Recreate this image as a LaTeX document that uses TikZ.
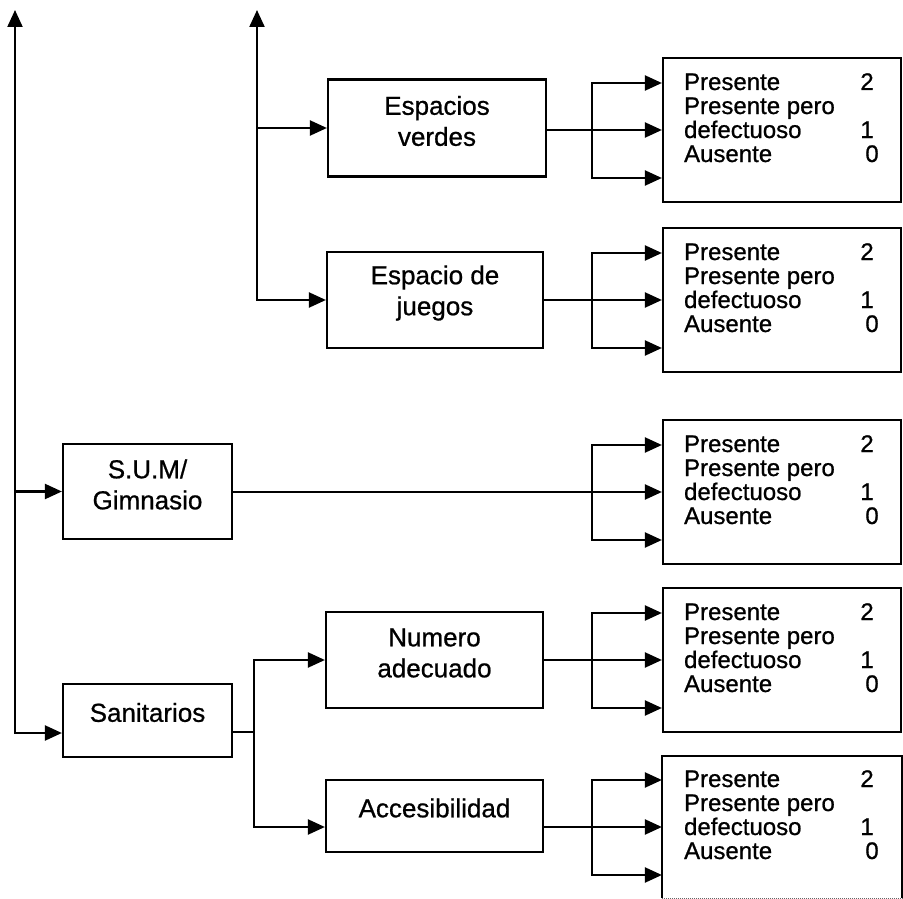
\documentclass[tikz,border=0pt]{standalone}
\usepackage{fontspec}
\setmainfont{Liberation Sans}
\newfontfamily\scanfont[FakeBold=0.8]{Liberation Sans}
\usetikzlibrary{arrows.meta,calc}
\begin{document}
\begin{tikzpicture}[x=1pt,y=-1pt,
  conn/.style={line width=2.2pt},
  arr/.style={conn,-{Triangle[length=17pt,width=15pt]}},
  arr2/.style={conn,{Triangle[length=17pt,width=15pt]}-{Triangle[length=17pt,width=15pt]}},
  box/.style={draw,line width=2.2pt,rectangle,inner sep=0pt},
  rbox/.style={box,minimum width=238pt,minimum height=144pt},
  lbl/.style={font=\scanfont\fontsize{26}{31}\selectfont,align=center,inner sep=0pt},
  opt/.style={font=\scanfont\fontsize{24}{24}\selectfont,inner sep=0pt,anchor=base west},
  num/.style={font=\scanfont\fontsize{24}{24}\selectfont,inner sep=0pt,anchor=base east}]
\useasboundingbox (0,0) rectangle (903,899);

% middle / left boxes
\node[box,minimum width=218pt,minimum height=97pt] (ev)  at (437,128) {};
\node[box,minimum width=216pt,minimum height=96pt] (ej)  at (435,300) {};
\node[box,minimum width=169pt,minimum height=95pt] (sum) at (147.5,491.5) {};
\node[box,minimum width=217pt,minimum height=96pt] (nu)  at (434.5,660) {};
\node[box,minimum width=169pt,minimum height=73pt] (san) at (147.5,720.5) {};
\node[box,minimum width=217pt,minimum height=72pt] (acc) at (434.5,816) {};

\node[lbl] (ev-t)  at ([yshift=7pt]ev.center)  {Espacios\\verdes};
\node[lbl] (ej-t)  at ([yshift=7pt]ej.center)  {Espacio de\\juegos};
\node[lbl] (sum-t) at ([yshift=7pt]sum.center) {S.U.M/\\Gimnasio};
\node[lbl] (nu-t)  at ([yshift=7pt]nu.center)  {Numero\\adecuado};
\node[lbl] (san-t) at ([yshift=8pt]san.center) {Sanitarios};
\node[lbl] (acc-t) at ([yshift=8pt]acc.center) {Accesibilidad};

% right boxes
\foreach \n/\y in {r1/130,r2/300,r3/492,r4/660}{
  \node[rbox] (\n) at (782,\y) {};
}
\node[rbox,draw=none,minimum height=140pt] (r5) at (782,827) {};
\draw[line width=2.2pt] (r5.south west) -- (r5.north west) -- (r5.north east) -- (r5.south east);
\draw[line width=1pt,densely dotted,black!60] (r5.south west) -- (r5.south east);

\foreach \n in {r1,r2,r3,r4,r5}{
  \node[opt] (\n-a) at ($(\n.west)+(22,-40)$) {Presente};
  \node[opt] (\n-b) at ($(\n.west)+(22,-16)$) {Presente pero};
  \node[opt] (\n-c) at ($(\n.west)+(22,8)$) {defectuoso};
  \node[opt] (\n-d) at ($(\n.west)+(22,32)$) {Ausente};
  \node[num] (\n-2) at ($(\n.west)+(212,-40)$) {2};
  \node[num] (\n-1) at ($(\n.west)+(212,8)$) {1};
  \node[num] (\n-0) at ($(\n.west)+(217,32)$) {0};
  \coordinate (\n-t) at ($(\n.west)+(0,-47)$);
  \coordinate (\n-u) at ($(\n.west)+(0,48)$);
  \coordinate (\n-k) at (592,0);
  \draw[arr2] (\n-t) -- (\n-k |- \n-t) -- (\n-k |- \n-u) -- (\n-u);
}

% outputs of middle boxes
\draw[arr] (ev.east |- r1.west) -- (r1.west);
\draw[arr] (ej.east |- r2.west) -- (r2.west);
\draw[arr] (sum.east |- r3.west) -- (r3.west);
\draw[arr] (nu.east |- r4.west) -- (r4.west);
\draw[arr] (acc.east |- r5.west) -- (r5.west);

% left trunk
\coordinate (t1) at (15,10);
\coordinate (t1b) at (15,733);
\draw[arr2] (t1) -- (t1b) -- (t1b -| san.west);
\draw[arr] (t1 |- sum.west) -- (sum.west);

% second trunk
\coordinate (t2) at (257,10);
\draw[arr2] (t2) -- (t2 |- ej.west) -- (ej.west);
\draw[arr] (t2 |- ev.west) -- (ev.west);

% sanitarios branch
\coordinate (sb) at (254,732);
\draw[conn] (san.east |- sb) -- (sb);
\draw[arr2] (nu.west) -- (sb |- nu.west) -- (sb |- r5.west) -- (acc.west |- r5.west);
\end{tikzpicture}
\end{document}
